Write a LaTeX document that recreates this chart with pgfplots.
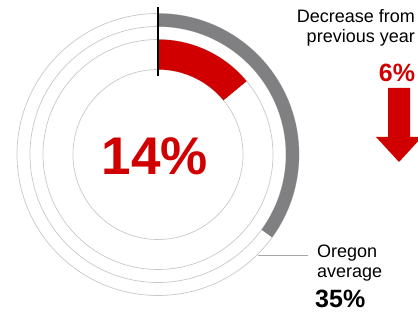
\documentclass[border=0pt]{standalone}
\usepackage{pgfplots}
\pgfplotsset{compat=1.18}
\usepackage{fontspec}
\setmainfont{Liberation Sans}
\definecolor{donutred}{HTML}{D10000}
\definecolor{donutgray}{HTML}{808083}
\definecolor{ringgray}{HTML}{C8C8C8}
\definecolor{leadergray}{HTML}{A6A6A6}
% values (percent)
\def\valState{14}
\def\valOregon{35}
\pgfmathsetmacro{\endO}{90-3.6*\valOregon}
\pgfmathsetmacro{\endS}{90-3.6*\valState}
\pgfmathsetmacro{\revO}{\endO+180}
\pgfmathsetmacro{\revS}{\endS+180}
\begin{document}
\begin{tikzpicture}
\useasboundingbox (0,0) rectangle (418pt,311pt);
\begin{axis}[
  at={(0,0)}, anchor=south west,
  scale only axis, width=418pt, height=311pt,
  xmin=0, xmax=418, ymin=0, ymax=311,
  hide axis, clip=false,
]
\addplot[draw=none, forget plot] coordinates {(0,\valState) (1,\valOregon)};
% thin rings
\pgfplotsinvokeforeach{141,128,115,85}{
  \draw[ringgray, line width=0.7pt] (axis cs:158,156.5) circle[radius=#1pt];
}
% gray band: Oregon average
\fill[donutgray] (axis cs:158,156.5) ++(90:141pt) arc[start angle=90, end angle=\endO, radius=141pt]
  -- ++(\revO:13pt) arc[start angle=\endO, end angle=90, radius=128pt] -- cycle;
% red band: state value
\fill[donutred] (axis cs:158,156.5) ++(90:115pt) arc[start angle=90, end angle=\endS, radius=115pt]
  -- ++(\revS:30pt) arc[start angle=\endS, end angle=90, radius=85pt] -- cycle;
% start marker
\draw[black, line width=2.3pt] (axis cs:158,304) -- (axis cs:158,235);
% leader line
\draw[leadergray, line width=0.9pt] (axis cs:258,56) -- (axis cs:308,56);
% centre label
\node[anchor=base, text=donutred, font=\fontsize{53}{60}\selectfont\bfseries, inner sep=0pt] at (axis cs:155,136) {14\%};
% right labels
\node[anchor=base east, font=\fontsize{18}{20}\selectfont, inner sep=0pt] at (axis cs:415,288.3) {Decrease from};
\node[anchor=base east, font=\fontsize{18}{20}\selectfont, inner sep=0pt] at (axis cs:415,268.3) {previous year};
\node[anchor=base, text=donutred, font=\fontsize{25}{28}\selectfont\bfseries, inner sep=0pt] at (axis cs:397,229.3) {6\%};
\fill[donutred] (axis cs:388,223) -- (axis cs:410,223) -- (axis cs:410,174) -- (axis cs:422,174)
  -- (axis cs:399,149) -- (axis cs:376,174) -- (axis cs:388,174) -- cycle;
\node[anchor=base west, font=\fontsize{18}{20}\selectfont, inner sep=0pt] at (axis cs:317,53) {Oregon};
\node[anchor=base west, font=\fontsize{18}{20}\selectfont, inner sep=0pt] at (axis cs:317,34) {average};
\node[anchor=base west, font=\fontsize{25}{28}\selectfont\bfseries, inner sep=0pt] at (axis cs:315,4) {35\%};
\end{axis}
\end{tikzpicture}
\end{document}
